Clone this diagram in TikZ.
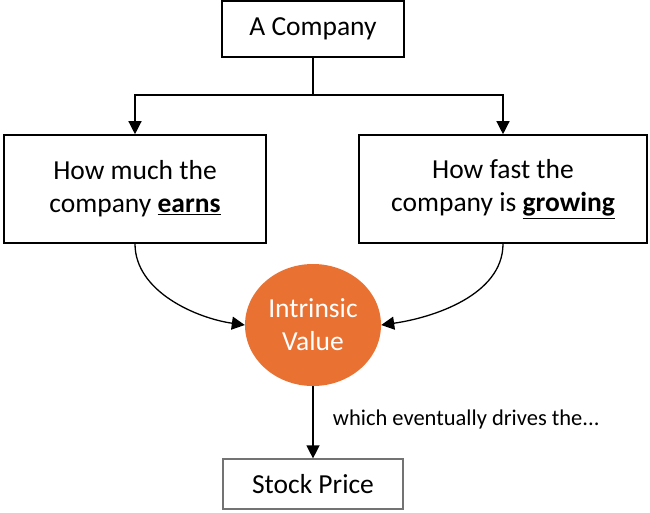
\documentclass[tikz,border=0pt]{standalone}
\usepackage{fontspec}
\setmainfont{Carlito}
\usetikzlibrary{arrows.meta,shapes.geometric}
\definecolor{ivorange}{HTML}{E97132}
\begin{document}
\begin{tikzpicture}[x=1pt,y=-1pt,
  box/.style={draw=black,line width=1.6pt,rectangle,inner sep=0pt,align=center,font=\fontsize{27.5}{33}\selectfont},
  graybox/.style={draw=black!55,line width=1.2pt,rectangle,inner sep=0pt,align=center,font=\fontsize{27.5}{33}\selectfont},
  conn/.style={line width=1.3pt,-{Triangle[length=13pt,width=13pt]}},
  plain/.style={line width=1.3pt}]
\useasboundingbox (0,0) rectangle (650,512);
\node[box,minimum width=182pt,minimum height=56pt] (company) at (313,29) {A Company};
\node[box,minimum width=262pt,minimum height=108pt] (earn) at (135,189) {How much the\\company \textbf{\underline{earns}}};
\node[box,minimum width=288pt,minimum height=108pt] (grow) at (503,189) {How fast the\\company is \textbf{\underline{growing}}};
\node[ellipse,fill=ivorange,minimum width=136pt,minimum height=122pt,inner sep=0pt,align=center,text=white,font=\fontsize{27.5}{33}\selectfont] (iv) at (313,325) {Intrinsic\\Value};
\node[graybox,minimum width=180pt,minimum height=50pt] (stock) at (313,484) {Stock Price};
\coordinate (fork) at (313,95);
\draw[plain] (company.south) -- (fork);
\draw[conn] (fork) -| (earn.north);
\draw[conn] (fork) -| (grow.north);
\draw[conn] (earn.south) to[out=-90,in=172,looseness=0.9] (iv.west);
\draw[conn] (grow.south) to[out=-90,in=8,looseness=0.9] (iv.east);
\draw[conn] (iv.south) -- (stock.north) node[midway,anchor=west,xshift=16pt,yshift=3pt,font=\fontsize{22.5}{27}\selectfont] (lbl) {which eventually drives the...};
\end{tikzpicture}
\end{document}
